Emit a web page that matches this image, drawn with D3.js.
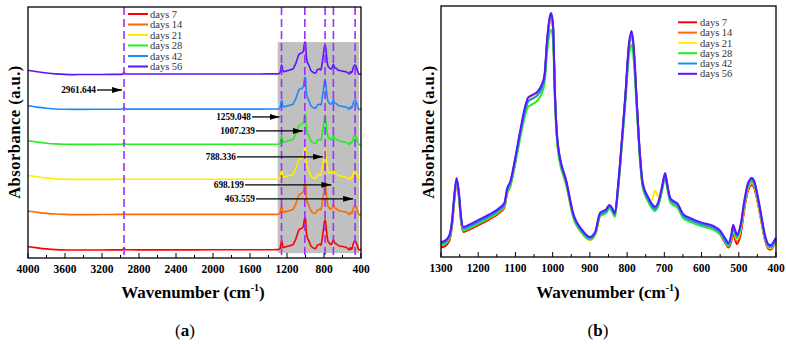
<!DOCTYPE html>
<html><head><meta charset="utf-8">
<script src="https://cdn.jsdelivr.net/npm/d3@7"></script>
<style>html,body{margin:0;padding:0;background:#fff;}svg{display:block;}</style>
</head><body>
<svg id="c" width="786" height="344"></svg>
<script>
// ---------- DATA ----------
const seriesNames = ["days 7","days 14","days 21","days 28","days 42","days 56"];
const seriesColors = ["#ff0000","#ff6a00","#ffee00","#22ee22","#1e88ff","#5a14ff"];
// vertical stacking offsets used in panel (a), a.u.
const stackOffsets = [0,1,2,3,4,5];

// fingerprint region wavenumbers (cm-1)
const fpWave = [1300,1290,1278,1270,1264,1258,1252,1246,1240,1230,1200,1170,1140,1130,1122,1114,1100,1087,1073,1066,1055,1040,1030,1022,1015,1008,1004,999,994,986,962,945,921,900,886,873,865,857,848,840,833,824,815,805,795,788,783,774,766,758,744,735,725,715,705,698,692,684,672,664,650,630,600,570,550,535,528,520,515,510,505,495,485,475,465,458,450,440,430,420,413,405,400];
const fpDays7  = [.038,.042,.063,.128,.228,.295,.240,.140,.100,.105,.127,.150,.180,.196,.256,.282,.382,.488,.590,.622,.632,.648,.672,.712,.850,.942,.958,.910,.648,.438,.282,.162,.095,.068,.088,.163,.170,.175,.195,.183,.163,.278,.438,.628,.836,.886,.836,.608,.408,.284,.228,.204,.190,.214,.280,.325,.280,.225,.210,.202,.162,.145,.127,.113,.090,.052,.038,.062,.095,.070,.052,.090,.190,.265,.287,.272,.224,.147,.070,.032,.030,.048,.059];
const fpDays14 = [.047,.051,.072,.137,.236,.300,.246,.146,.105,.110,.132,.155,.184,.200,.260,.285,.385,.490,.590,.622,.634,.650,.675,.714,.852,.942,.958,.912,.650,.442,.286,.166,.098,.070,.091,.166,.174,.179,.198,.186,.166,.281,.441,.630,.838,.888,.838,.610,.411,.287,.231,.206,.192,.216,.281,.327,.282,.227,.212,.204,.164,.147,.129,.117,.095,.058,.043,.072,.105,.082,.064,.104,.200,.272,.292,.278,.229,.151,.074,.036,.033,.051,.062];
const fpDays21 = [.050,.054,.075,.140,.240,.305,.250,.150,.108,.113,.135,.158,.187,.203,.263,.288,.388,.492,.592,.625,.636,.652,.676,.715,.850,.940,.955,.910,.650,.440,.285,.165,.096,.068,.090,.165,.173,.178,.197,.185,.165,.280,.440,.628,.835,.885,.835,.608,.410,.286,.232,.225,.265,.238,.282,.326,.281,.226,.211,.203,.163,.146,.128,.116,.094,.058,.044,.075,.110,.088,.070,.110,.205,.277,.298,.283,.234,.155,.077,.038,.035,.053,.064];
const fpDays28 = [.050,.053,.073,.138,.236,.300,.245,.146,.106,.111,.133,.156,.185,.200,.258,.282,.375,.475,.570,.598,.608,.625,.650,.690,.815,.895,.905,.865,.625,.425,.278,.160,.096,.070,.090,.163,.170,.175,.192,.180,.160,.270,.425,.605,.800,.845,.798,.585,.396,.276,.222,.198,.183,.208,.272,.316,.272,.217,.203,.195,.156,.140,.122,.110,.090,.056,.043,.076,.114,.094,.076,.115,.210,.280,.300,.286,.237,.158,.079,.040,.037,.055,.066];
const fpDays42 = [.055,.059,.080,.145,.244,.308,.253,.154,.113,.118,.140,.163,.192,.208,.268,.293,.392,.495,.592,.620,.630,.646,.672,.714,.855,.948,.965,.918,.655,.446,.290,.170,.103,.075,.095,.169,.176,.181,.200,.188,.168,.283,.442,.630,.840,.890,.840,.612,.413,.288,.232,.207,.192,.218,.283,.328,.283,.228,.213,.205,.165,.148,.130,.118,.098,.063,.049,.082,.120,.100,.082,.122,.218,.288,.308,.293,.243,.163,.083,.044,.041,.059,.070];
const fpDays56 = [.060,.064,.085,.150,.250,.315,.260,.160,.120,.125,.147,.170,.199,.215,.275,.300,.400,.505,.605,.635,.645,.660,.685,.725,.865,.955,.972,.925,.660,.450,.295,.175,.108,.080,.100,.175,.183,.188,.207,.195,.175,.290,.450,.640,.850,.900,.850,.620,.420,.295,.240,.215,.200,.225,.290,.335,.290,.235,.220,.212,.172,.155,.137,.125,.105,.070,.056,.090,.128,.108,.090,.130,.225,.295,.315,.300,.250,.170,.090,.050,.047,.065,.076];

// high wavenumber region (panel a only)
const hiWave = [4000,3900,3800,3700,3600,3500,3400,3200,3000,2975,2962,2950,2925,2800,2400,2000,1600,1400,1320];
const hiDays7  = [.125,.090,.060,.040,.030,.028,.028,.030,.032,.040,.095,.040,.034,.032,.032,.034,.035,.036,.038];
const hiDays14 = [.140,.105,.075,.055,.045,.040,.040,.042,.045,.052,.085,.050,.045,.045,.045,.046,.046,.046,.047];
const hiDays21 = [.160,.120,.085,.060,.050,.045,.045,.047,.048,.058,.100,.058,.050,.048,.048,.049,.049,.050,.050];
const hiDays28 = [.150,.110,.080,.060,.050,.046,.046,.048,.050,.060,.095,.058,.050,.049,.049,.049,.050,.050,.050];
const hiDays42 = [.150,.110,.080,.058,.050,.046,.047,.049,.051,.062,.100,.060,.053,.052,.053,.054,.054,.055,.055];
const hiDays56 = [.160,.120,.085,.060,.045,.040,.042,.044,.046,.060,.110,.062,.055,.055,.056,.058,.058,.059,.060];

const fpSeries = [fpDays7,fpDays14,fpDays21,fpDays28,fpDays42,fpDays56];
const hiSeries = [hiDays7,hiDays14,hiDays21,hiDays28,hiDays42,hiDays56];

// marked peaks
const peakWave = [2961.644,1259.048,1007.239,788.336,698.199,463.559];
const peakLabels = ["2961.644","1259.048","1007.239","788.336","698.199","463.559"];
// annotation arrow rows (a.u. in stacked panel) and arrow start wavenumbers
const peakArrowLevel = [4.6,3.83,3.43,2.69,1.89,1.49];
const peakArrowStart = [3254,1578,1535,1741,1654,1535];
const bandRange = [1300,420];

const ticksA = [4000,3600,3200,2800,2400,2000,1600,1200,800,400];
const ticksB = [1300,1200,1100,1000,900,800,700,600,500,400];

// ---------- DRAW ----------
const svg = d3.select("#c");
const serif = "'Liberation Serif','Times New Roman',serif";

function panel(x0,x1,y0,y1){ return {x0,x1,y0,y1}; }
const PA = panel(28,361,7,258), PB = panel(441,776,6,257);

const xA = d3.scaleLinear().domain([4000,400]).range([PA.x0,PA.x1]);
const yA = d3.scaleLinear().domain([-0.2,6.971]).range([PA.y1,PA.y0]);
const xB = d3.scaleLinear().domain([1300,400]).range([PB.x0,PB.x1]);
const yB = d3.scaleLinear().domain([0,1]).range([PB.y1,PB.y0]);

// ---- Panel A ----
const gA = svg.append("g");
gA.append("rect").attr("x",xA(bandRange[0])).attr("width",xA(bandRange[1])-xA(bandRange[0]))
  .attr("y",yA(5.97)).attr("height",yA(-0.06)-yA(5.97)).attr("fill","#c0c0c0");

const lineA = d3.line().x(d=>xA(d[0])).y(d=>yA(d[1])).curve(d3.curveMonotoneX);
seriesNames.forEach((n,i)=>{
  const pts = hiWave.map((w,k)=>[w,hiSeries[i][k]+stackOffsets[i]])
    .concat(fpWave.map((w,k)=>[w,fpSeries[i][k]+stackOffsets[i]]));
  gA.append("path").attr("d",lineA(pts)).attr("fill","none")
    .attr("stroke",seriesColors[i]).attr("stroke-width",1.6);
});

// dashed peak lines
peakWave.forEach(w=>{
  gA.append("line").attr("x1",xA(w)).attr("x2",xA(w)).attr("y1",PA.y0).attr("y2",PA.y1)
    .attr("stroke","#9b30ff").attr("stroke-width",1.6).attr("stroke-dasharray","8,4");
});

// arrow marker
const defs = svg.append("defs");
defs.append("marker").attr("id","arr").attr("markerUnits","userSpaceOnUse")
  .attr("viewBox","0 0 10 6").attr("refX",10).attr("refY",3)
  .attr("markerWidth",10).attr("markerHeight",6).attr("orient","auto")
  .append("path").attr("d","M0,0 L10,3 L0,6 Z").attr("fill","#000");

peakWave.forEach((w,i)=>{
  const y = yA(peakArrowLevel[i]);
  const xs = xA(peakArrowStart[i]);
  gA.append("line").attr("x1",xs).attr("x2",xA(w)-2).attr("y1",y).attr("y2",y)
    .attr("stroke","#000").attr("stroke-width",1.3).attr("marker-end","url(#arr)");
  gA.append("text").attr("x",xs-1).attr("y",y).attr("dy","0.35em").attr("text-anchor","end")
    .attr("font-family",serif).attr("font-weight","bold").attr("font-size",9.3).attr("fill","#000")
    .text(peakLabels[i]);
});

// frame
gA.append("rect").attr("x",PA.x0).attr("y",PA.y0).attr("width",PA.x1-PA.x0).attr("height",PA.y1-PA.y0)
  .attr("fill","none").attr("stroke","#000").attr("stroke-width",1.3);

// ticks
d3.range(4000,399,-200).forEach(w=>{
  const major = ticksA.includes(w);
  gA.append("line").attr("x1",xA(w)).attr("x2",xA(w)).attr("y1",PA.y1).attr("y2",PA.y1-(major?5:3))
    .attr("stroke","#000").attr("stroke-width",1);
});
ticksA.forEach(w=>{
  gA.append("text").attr("x",xA(w)).attr("y",PA.y1+15).attr("text-anchor","middle")
    .attr("font-family",serif).attr("font-weight","bold").attr("font-size",11.5).text(w);
});

// legend A
seriesNames.forEach((n,i)=>{
  const y = 14 + i*10.5;
  gA.append("line").attr("x1",128).attr("x2",148).attr("y1",y).attr("y2",y)
    .attr("stroke",seriesColors[i]).attr("stroke-width",2);
  gA.append("text").attr("x",150).attr("y",y).attr("dy","0.35em")
    .attr("font-family",serif).attr("font-size",10.5).attr("fill","#333").text(n);
});

// ---- Panel B ----
const gB = svg.append("g");
const lineB = d3.line().x(d=>xB(d[0])).y(d=>yB(d[1])).curve(d3.curveMonotoneX);
seriesNames.forEach((n,i)=>{
  const pts = fpWave.map((w,k)=>[w,fpSeries[i][k]]);
  gB.append("path").attr("d",lineB(pts)).attr("fill","none")
    .attr("stroke",seriesColors[i]).attr("stroke-width",2);
});
gB.append("rect").attr("x",PB.x0).attr("y",PB.y0).attr("width",PB.x1-PB.x0).attr("height",PB.y1-PB.y0)
  .attr("fill","none").attr("stroke","#000").attr("stroke-width",1.3);
d3.range(1300,399,-50).forEach(w=>{
  const major = ticksB.includes(w);
  gB.append("line").attr("x1",xB(w)).attr("x2",xB(w)).attr("y1",PB.y1).attr("y2",PB.y1-(major?5:3))
    .attr("stroke","#000").attr("stroke-width",1);
});
ticksB.forEach(w=>{
  gB.append("text").attr("x",xB(w)).attr("y",PB.y1+15).attr("text-anchor","middle")
    .attr("font-family",serif).attr("font-weight","bold").attr("font-size",11.5).text(w);
});
seriesNames.forEach((n,i)=>{
  const y = 22.3 + i*10.3;
  gB.append("line").attr("x1",678).attr("x2",697).attr("y1",y).attr("y2",y)
    .attr("stroke",seriesColors[i]).attr("stroke-width",2);
  gB.append("text").attr("x",700).attr("y",y).attr("dy","0.35em")
    .attr("font-family",serif).attr("font-size",10.5).attr("fill","#333").text(n);
});

// ---- titles ----
function xTitle(cx){
  const t = svg.append("text").attr("x",cx).attr("y",298).attr("text-anchor","middle")
    .attr("font-family",serif).attr("font-weight","bold").attr("font-size",17);
  t.append("tspan").text("Wavenumber (cm");
  t.append("tspan").attr("dy",-7).attr("font-size",10).text("-1");
  t.append("tspan").attr("dy",7).text(")");
}
xTitle(193); xTitle(608);
function yTitle(cx){
  svg.append("text").attr("transform",`translate(${cx},132) rotate(-90)`).attr("text-anchor","middle")
    .attr("dy","0.35em").attr("font-family",serif).attr("font-weight","bold").attr("font-size",16.5)
    .attr("letter-spacing",0.5).text("Absorbance (a.u.)");
}
yTitle(14); yTitle(428);
function sub(cx,l){
  const t = svg.append("text").attr("x",cx).attr("y",336).attr("text-anchor","middle")
    .attr("font-family",serif).attr("font-size",17);
  t.append("tspan").text("(");
  t.append("tspan").attr("font-weight","bold").text(l);
  t.append("tspan").text(")");
}
sub(185,"a"); sub(598,"b");
</script>
</body></html>
